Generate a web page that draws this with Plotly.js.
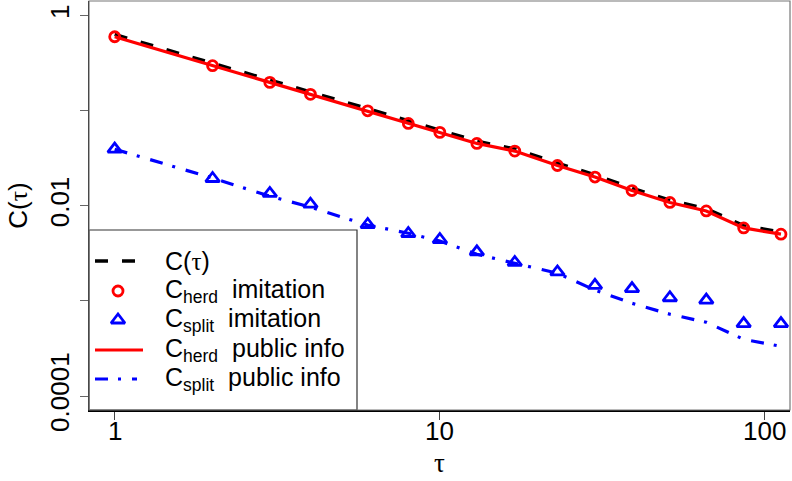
<!DOCTYPE html>
<html>
<head>
<meta charset="utf-8">
<script src="https://cdn.plot.ly/plotly-3.0.1.min.js"></script>
<style>html,body{margin:0;padding:0;background:#fff;}</style>
</head>
<body>
<div id="chart" style="width:792px;height:481px;"></div>
<script>
// lag values tau
const tau = [1, 2, 3, 4, 6, 8, 10, 13, 17, 23, 30, 39, 51, 66, 86, 112];
// C(tau) (black dashed)
const cTotal = [0.635, 0.314, 0.210, 0.158, 0.1055, 0.0778, 0.0627, 0.0480, 0.0398, 0.0282, 0.0212, 0.0154, 0.01150, 0.00937, 0.00620, 0.00532];
// C_herd imitation (red circles)
const cHerdImit = [0.601, 0.298, 0.199, 0.149, 0.100, 0.0737, 0.0593, 0.0454, 0.0377, 0.0266, 0.0201, 0.0145, 0.01087, 0.00885, 0.00586, 0.00504];
// C_split imitation (blue triangles)
const cSplitImit = [0.0395, 0.0194, 0.01352, 0.01042, 0.00637, 0.00512, 0.00443, 0.00328, 0.00254, 0.00202, 0.00146, 0.00135, 0.00108, 0.00102, 0.000578, 0.000578];
// C_herd public info (red solid)
const cHerdPub = [0.601, 0.298, 0.199, 0.149, 0.100, 0.0737, 0.0593, 0.0454, 0.0377, 0.0266, 0.0201, 0.0145, 0.01087, 0.00885, 0.00586, 0.00504];
// C_split public info (blue dash-dot)
const cSplitPub = [0.0395, 0.0196, 0.01265, 0.00969, 0.00627, 0.00516, 0.00426, 0.00310, 0.00249, 0.00196, 0.00130, 0.000946, 0.000725, 0.000597, 0.000395, 0.000333];

const yTickVals = [1, 0.1, 0.01, 0.001, 0.0001];
const yTickText = ['1', '', '0.01', '', '0.0001'];
const xTickVals = [1, 10, 100];
const xTickText = ['1', '10', '100'];

const SANS = 'Liberation Sans, Arial, sans-serif';
const SERIF = 'Liberation Serif, DejaVu Serif, serif';
const TAU = '<span style="font-family:Liberation Serif">τ</span>';
const NB = '\u00a0';
const legendLabels = [
  'C(' + TAU + ')',
  'C<sub>herd</sub>' + NB + NB + 'imitation',
  'C<sub>split</sub>' + NB + NB + 'imitation',
  'C<sub>herd</sub>' + NB + NB + 'public info',
  'C<sub>split</sub>' + NB + NB + 'public info'
];

// styles
const RED = '#ff0000', BLUE = '#0000ff', BLACK = '#000000';
const sTotal = {color: BLACK, width: 3.4, dash: '13px,14px'};
const sHerdLine = {color: RED, width: 3.2};
const sSplitLine = {color: BLUE, width: 3.2, dash: '13px,10px,3px,11px'};
const mHerd = {symbol: 'circle-open', color: RED, size: 10, line: {width: 2.8, color: RED}};
const mSplit = {symbol: 'triangle-up-open', color: BLUE, size: 12, line: {width: 2.8, color: BLUE}};

const traces = [
  {x: tau, y: cTotal, type: 'scatter', mode: 'lines', line: sTotal},
  {x: tau, y: cHerdImit, type: 'scatter', mode: 'markers', marker: mHerd},
  {x: tau, y: cSplitImit, type: 'scatter', mode: 'markers', marker: mSplit},
  {x: tau, y: cHerdPub, type: 'scatter', mode: 'lines', line: sHerdLine},
  {x: tau, y: cSplitPub, type: 'scatter', mode: 'lines', line: sSplitLine}
];

// legend drawn on an overlay axis in pixel units of the page
const LG = {x0: 89, x1: 357, y0: 230, y1: 410, symA: 95, symB: 143, symC: 118, textX: 163,
            rows: [261, 291, 320, 350, 379]};
traces.push(
  {x: [LG.symA, LG.symB], y: [LG.rows[0], LG.rows[0]], xaxis: 'x2', yaxis: 'y2', type: 'scatter', mode: 'lines', line: sTotal},
  {x: [LG.symC], y: [LG.rows[1]], xaxis: 'x2', yaxis: 'y2', type: 'scatter', mode: 'markers', marker: mHerd},
  {x: [LG.symC], y: [LG.rows[2]], xaxis: 'x2', yaxis: 'y2', type: 'scatter', mode: 'markers', marker: mSplit},
  {x: [LG.symA, LG.symB], y: [LG.rows[3], LG.rows[3]], xaxis: 'x2', yaxis: 'y2', type: 'scatter', mode: 'lines', line: sHerdLine},
  {x: [LG.symA, LG.symB - 6], y: [LG.rows[4], LG.rows[4]], xaxis: 'x2', yaxis: 'y2', type: 'scatter', mode: 'lines', line: sSplitLine}
);

const annotations = legendLabels.map((t, i) => ({
  xref: 'x2', yref: 'y2', x: LG.textX, y: LG.rows[i], xanchor: 'left', yanchor: 'middle',
  text: t, showarrow: false, font: {family: SANS, size: 25, color: BLACK}
}));
// x tick labels, placed close under the ticks
xTickVals.forEach((v, i) => annotations.push({
  xref: 'x', yref: 'paper', x: Math.log10(v), y: 0, yshift: -21, xanchor: 'center', yanchor: 'middle',
  text: xTickText[i], showarrow: false, font: {family: SANS, size: 26, color: BLACK}
}));
// x axis title
annotations.push({
  xref: 'paper', yref: 'paper', x: 0.5, y: 0, yshift: -70, xanchor: 'center', yanchor: 'bottom',
  text: TAU, showarrow: false, font: {family: SERIF, size: 27, color: BLACK}
});

const layout = {
  width: 792, height: 481,
  margin: {l: 89, r: 2, t: 1, b: 71, pad: 0},
  paper_bgcolor: '#ffffff', plot_bgcolor: '#ffffff',
  font: {family: SANS, size: 26, color: BLACK},
  showlegend: false,
  xaxis: {
    type: 'log', range: [-0.079, 2.077],
    tickvals: xTickVals, showticklabels: false,
    ticks: 'outside', ticklen: 8, tickwidth: 1, tickcolor: '#444444',
    showgrid: false, zeroline: false,
    showline: true, linecolor: BLACK, linewidth: 1.5, mirror: false
  },
  yaxis: {
    type: 'log', range: [-4.147, 0.155],
    tickvals: yTickVals, ticktext: yTickText, tickangle: -90,
    ticks: 'outside', ticklen: 8, tickwidth: 1, tickcolor: '#666666',
    showgrid: false, zeroline: false,
    showline: true, linecolor: BLACK, linewidth: 1.5, mirror: false,
    tickfont: {size: 26},
    title: {text: 'C(' + TAU + ')', font: {size: 26}}
  },
  xaxis2: {overlaying: 'x', range: [89, 790], visible: false, fixedrange: true},
  yaxis2: {overlaying: 'y', range: [410, 1], visible: false, fixedrange: true},
  annotations: annotations,
  shapes: [
    {type: 'rect', xref: 'paper', yref: 'paper', x0: 0, x1: 1, y0: 0, y1: 1,
     line: {color: '#777777', width: 1.2}, fillcolor: 'rgba(0,0,0,0)', layer: 'above'},
    {type: 'rect', xref: 'x2', yref: 'y2', x0: LG.x0, x1: LG.x1, y0: LG.y0, y1: LG.y1,
     line: {color: '#333333', width: 1.2}, fillcolor: '#ffffff', layer: 'below'}
  ]
};

Plotly.newPlot('chart', traces, layout, {displayModeBar: false, staticPlot: true});
</script>
</body>
</html>
